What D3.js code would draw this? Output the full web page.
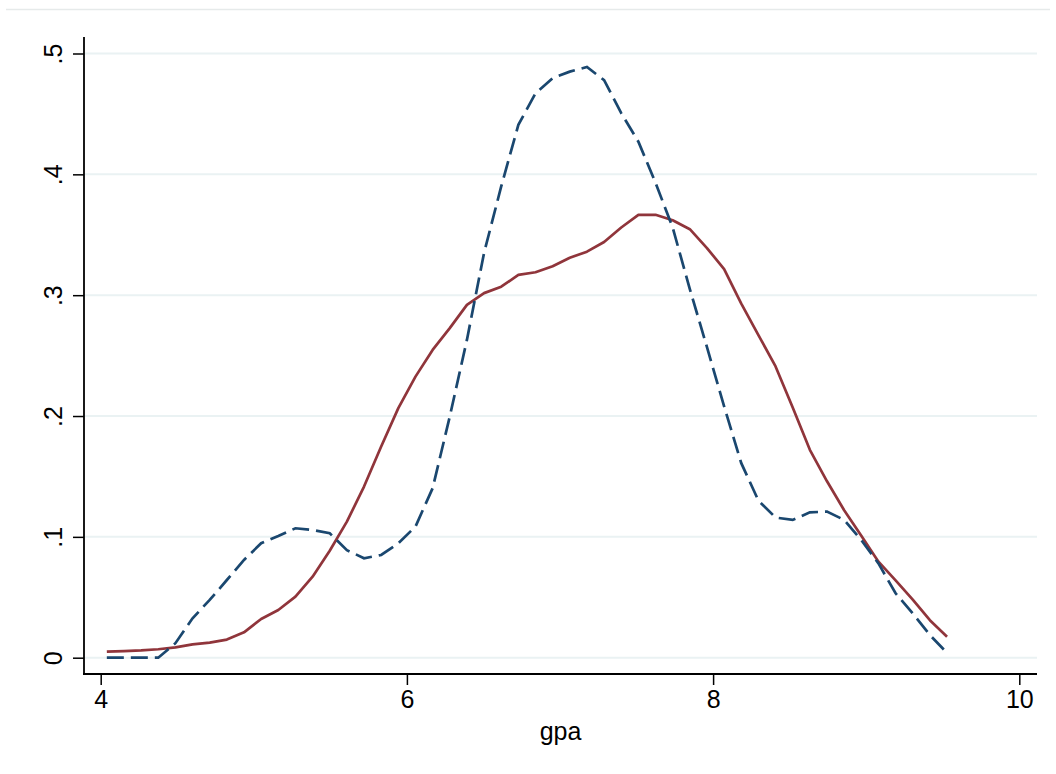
<!DOCTYPE html>
<html lang="en">

<head>
    <meta charset="UTF-8">
    <script src="https://cdnjs.cloudflare.com/ajax/libs/d3/7.8.5/d3.min.js"></script>
    <title>gpa density</title>
    <style>
        body { margin: 0; background: #fff; }
        svg { display: block; font-family: "Liberation Sans", Arial, sans-serif; }
    </style>
</head>

<body>
    <div id="content"></div>
</body>
<script>
    // evaluation points (gpa)
    const gpa = [4.040, 4.152, 4.264, 4.376, 4.488, 4.600, 4.712, 4.824, 4.936, 5.048,
        5.160, 5.272, 5.384, 5.496, 5.608, 5.720, 5.832, 5.944, 6.056, 6.168,
        6.280, 6.392, 6.504, 6.616, 6.728, 6.840, 6.952, 7.064, 7.176, 7.288,
        7.400, 7.512, 7.624, 7.736, 7.848, 7.960, 8.072, 8.184, 8.296, 8.408,
        8.520, 8.632, 8.744, 8.856, 8.968, 9.080, 9.192, 9.304, 9.416, 9.528]
    // dashed navy curve
    const densityA = [0, 0, 0, 0, 0.012, 0.0326, 0.0478, 0.0643, 0.0809, 0.0947,
        0.1007, 0.1071, 0.1057, 0.103, 0.089, 0.0823, 0.085, 0.0947, 0.1085, 0.1402,
        0.1995, 0.263, 0.335, 0.39, 0.441, 0.467, 0.4796, 0.485, 0.4888, 0.478,
        0.4507, 0.427, 0.393, 0.356, 0.305, 0.257, 0.208, 0.161, 0.13, 0.116,
        0.114, 0.1203, 0.1209, 0.114, 0.0974, 0.078, 0.0533, 0.0367, 0.0188, 0.004]
    // solid maroon curve
    const densityB = [0.005, 0.0055, 0.006, 0.007, 0.0085, 0.011, 0.0125, 0.015, 0.021, 0.032,
        0.0395, 0.0505, 0.067, 0.0885, 0.1126, 0.1416, 0.1747, 0.2065, 0.2326, 0.2547,
        0.2727, 0.292, 0.3017, 0.307, 0.3168, 0.319, 0.324, 0.331, 0.336, 0.344,
        0.356, 0.3665, 0.3665, 0.362, 0.3546, 0.339, 0.3215, 0.293, 0.267, 0.241,
        0.207, 0.172, 0.146, 0.122, 0.101, 0.0795, 0.064, 0.048, 0.031, 0.0174]
    const xTicks = [4, 6, 8, 10]
    const yTicks = [0, 0.1, 0.2, 0.3, 0.4, 0.5]
    const yTickLabels = ['0', '.1', '.2', '.3', '.4', '.5']

    const width = 1056;
    const height = 774;
    const plot = { left: 84, right: 1037, top: 37, bottom: 674 };
    const fontSize = '25px';

    const xScale = d3.scaleLinear().domain([4, 10]).range([100.7, 1019.3])
    const yScale = d3.scaleLinear().domain([0, 0.5]).range([657.7, 53.5])

    const svg = d3.select("#content")
        .append('svg')
        .attr('width', width)
        .attr('height', height);

    //-outer border (top edge)
    svg.append('line')
        .attr('x1', 6).attr('x2', 1050)
        .attr('y1', 9.5).attr('y2', 9.5)
        .style('stroke', '#e6eaea')
        .style('stroke-width', 1.5)

    //-Grid
    svg.append('g')
        .selectAll('line')
        .data(yTicks)
        .enter()
        .append('line')
        .attr('x1', plot.left + 1)
        .attr('x2', plot.right)
        .attr('y1', d => yScale(d))
        .attr('y2', d => yScale(d))
        .style('stroke', '#eaf2f3')
        .style('stroke-width', 2)

    //-Curves
    const line = ys => d3.line()
        .x((d, i) => xScale(gpa[i]))
        .y(d => yScale(d))(ys)
    svg.append('path')
        .attr('d', line(densityB))
        .style('fill', 'none')
        .style('stroke', '#90353b')
        .style('stroke-width', 2.7)
        .style('stroke-linejoin', 'round')
    svg.append('path')
        .attr('d', line(densityA))
        .style('fill', 'none')
        .style('stroke', '#1a476f')
        .style('stroke-width', 2.7)
        .style('stroke-dasharray', '17,7')

    //-Axis X
    const xAxis = d3.axisBottom(xScale)
        .tickValues(xTicks)
        .tickFormat(d3.format('d'))
        .tickSizeInner(11)
        .tickSizeOuter(0)
        .tickPadding(5)
    const gx = svg.append('g')
        .attr('transform', `translate(0,${plot.bottom})`)
        .call(xAxis);
    gx.select('.domain').remove()
    gx.append('line')
        .attr('x1', plot.left - 1).attr('x2', plot.right)
        .style('stroke', '#000').style('stroke-width', 1.8)
    gx.selectAll('.tick line').style('stroke', '#000').style('stroke-width', 1.5)
    gx.selectAll('.tick text')
        .style('font-size', fontSize)
        .style('font-family', '"Liberation Sans", Arial, sans-serif')
        .attr('fill', '#000')

    //-Axis Y
    const yAxis = d3.axisLeft(yScale)
        .tickValues(yTicks)
        .tickFormat((d, i) => yTickLabels[i])
        .tickSizeInner(11)
        .tickSizeOuter(0)
        .tickPadding(0)
    const gy = svg.append('g')
        .attr('transform', `translate(${plot.left},0)`)
        .call(yAxis);
    gy.select('.domain').remove()
    gy.append('line')
        .attr('y1', plot.top).attr('y2', plot.bottom + 1)
        .style('stroke', '#000').style('stroke-width', 1.8)
    gy.selectAll('.tick line').style('stroke', '#000').style('stroke-width', 1.5)
    gy.selectAll('.tick text')
        .attr('x', 0).attr('y', 0).attr('dy', 0)
        .attr('transform', 'translate(-22,0) rotate(-90)')
        .attr('text-anchor', 'middle')
        .style('font-size', fontSize)
        .style('font-family', '"Liberation Sans", Arial, sans-serif')
        .attr('fill', '#000')

    //--Title
    svg.append('text')
        .text('gpa')
        .attr('x', (plot.left + plot.right) / 2)
        .attr('y', 740)
        .attr('text-anchor', 'middle')
        .style('font-size', fontSize)
</script>

</html>
